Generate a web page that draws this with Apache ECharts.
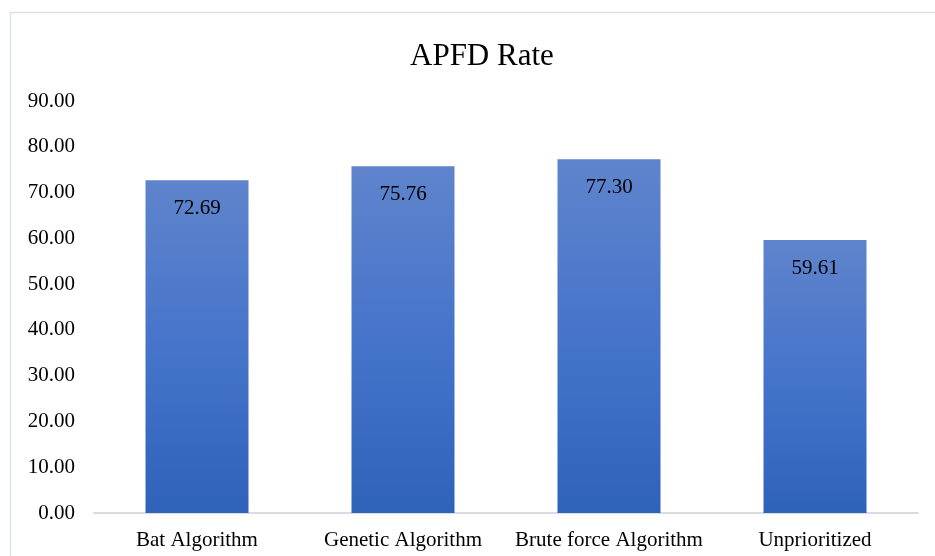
<!DOCTYPE html>
<html>
<head>
<meta charset="utf-8">
<script src="https://cdn.jsdelivr.net/npm/echarts@6/dist/echarts.min.js"></script>
<style>
html,body{margin:0;padding:0;background:#fff;}
#main{width:935px;height:556px;}
</style>
</head>
<body>
<div id="main"></div>
<script>
const categories = ['Bat Algorithm', 'Genetic Algorithm', 'Brute force Algorithm', 'Unprioritized'];
const apfdValues = [72.69, 75.76, 77.30, 59.61];
const titleText = 'APFD Rate';

const serif = '"Liberation Serif", "Times New Roman", serif';
const chart = echarts.init(document.getElementById('main'));
chart.setOption({
  backgroundColor: '#fff',
  animation: false,
  title: {
    text: titleText,
    left: 405,
    top: 36,
    textStyle: {fontFamily: serif, fontSize: 31, fontWeight: 'normal', color: '#000'}
  },
  graphic: [{
    type: 'rect',
    shape: {x: 10.5, y: 12.5, width: 1000, height: 1000},
    style: {fill: 'none', stroke: '#dde1e8', lineWidth: 1.5},
    silent: true
  }],
  grid: {left: 94, right: 17, top: 101, bottom: 43},
  xAxis: {
    type: 'category',
    data: categories,
    axisLine: {show: true, lineStyle: {color: '#d9dde3', width: 2}},
    axisTick: {show: false},
    axisLabel: {interval: 0, fontFamily: serif, fontSize: 21, color: '#000', margin: 17}
  },
  yAxis: {
    type: 'value',
    min: 0,
    max: 90,
    interval: 10,
    axisLine: {show: false},
    axisTick: {show: false},
    splitLine: {show: false},
    axisLabel: {fontFamily: serif, fontSize: 21, color: '#000', margin: 19,
      formatter: v => v.toFixed(2)}
  },
  series: [{
    type: 'bar',
    data: apfdValues,
    barWidth: '50%',
    itemStyle: {
      color: new echarts.graphic.LinearGradient(0, 0, 0, 1, [
        {offset: 0, color: '#5f84cc'},
        {offset: 0.5, color: '#4674cb'},
        {offset: 1, color: '#2f62b9'}
      ])
    },
    label: {
      show: true,
      position: 'insideTop',
      distance: 18,
      fontFamily: serif,
      fontSize: 21,
      color: '#000',
      formatter: p => p.value.toFixed(2)
    }
  }]
});
</script>
</body>
</html>
